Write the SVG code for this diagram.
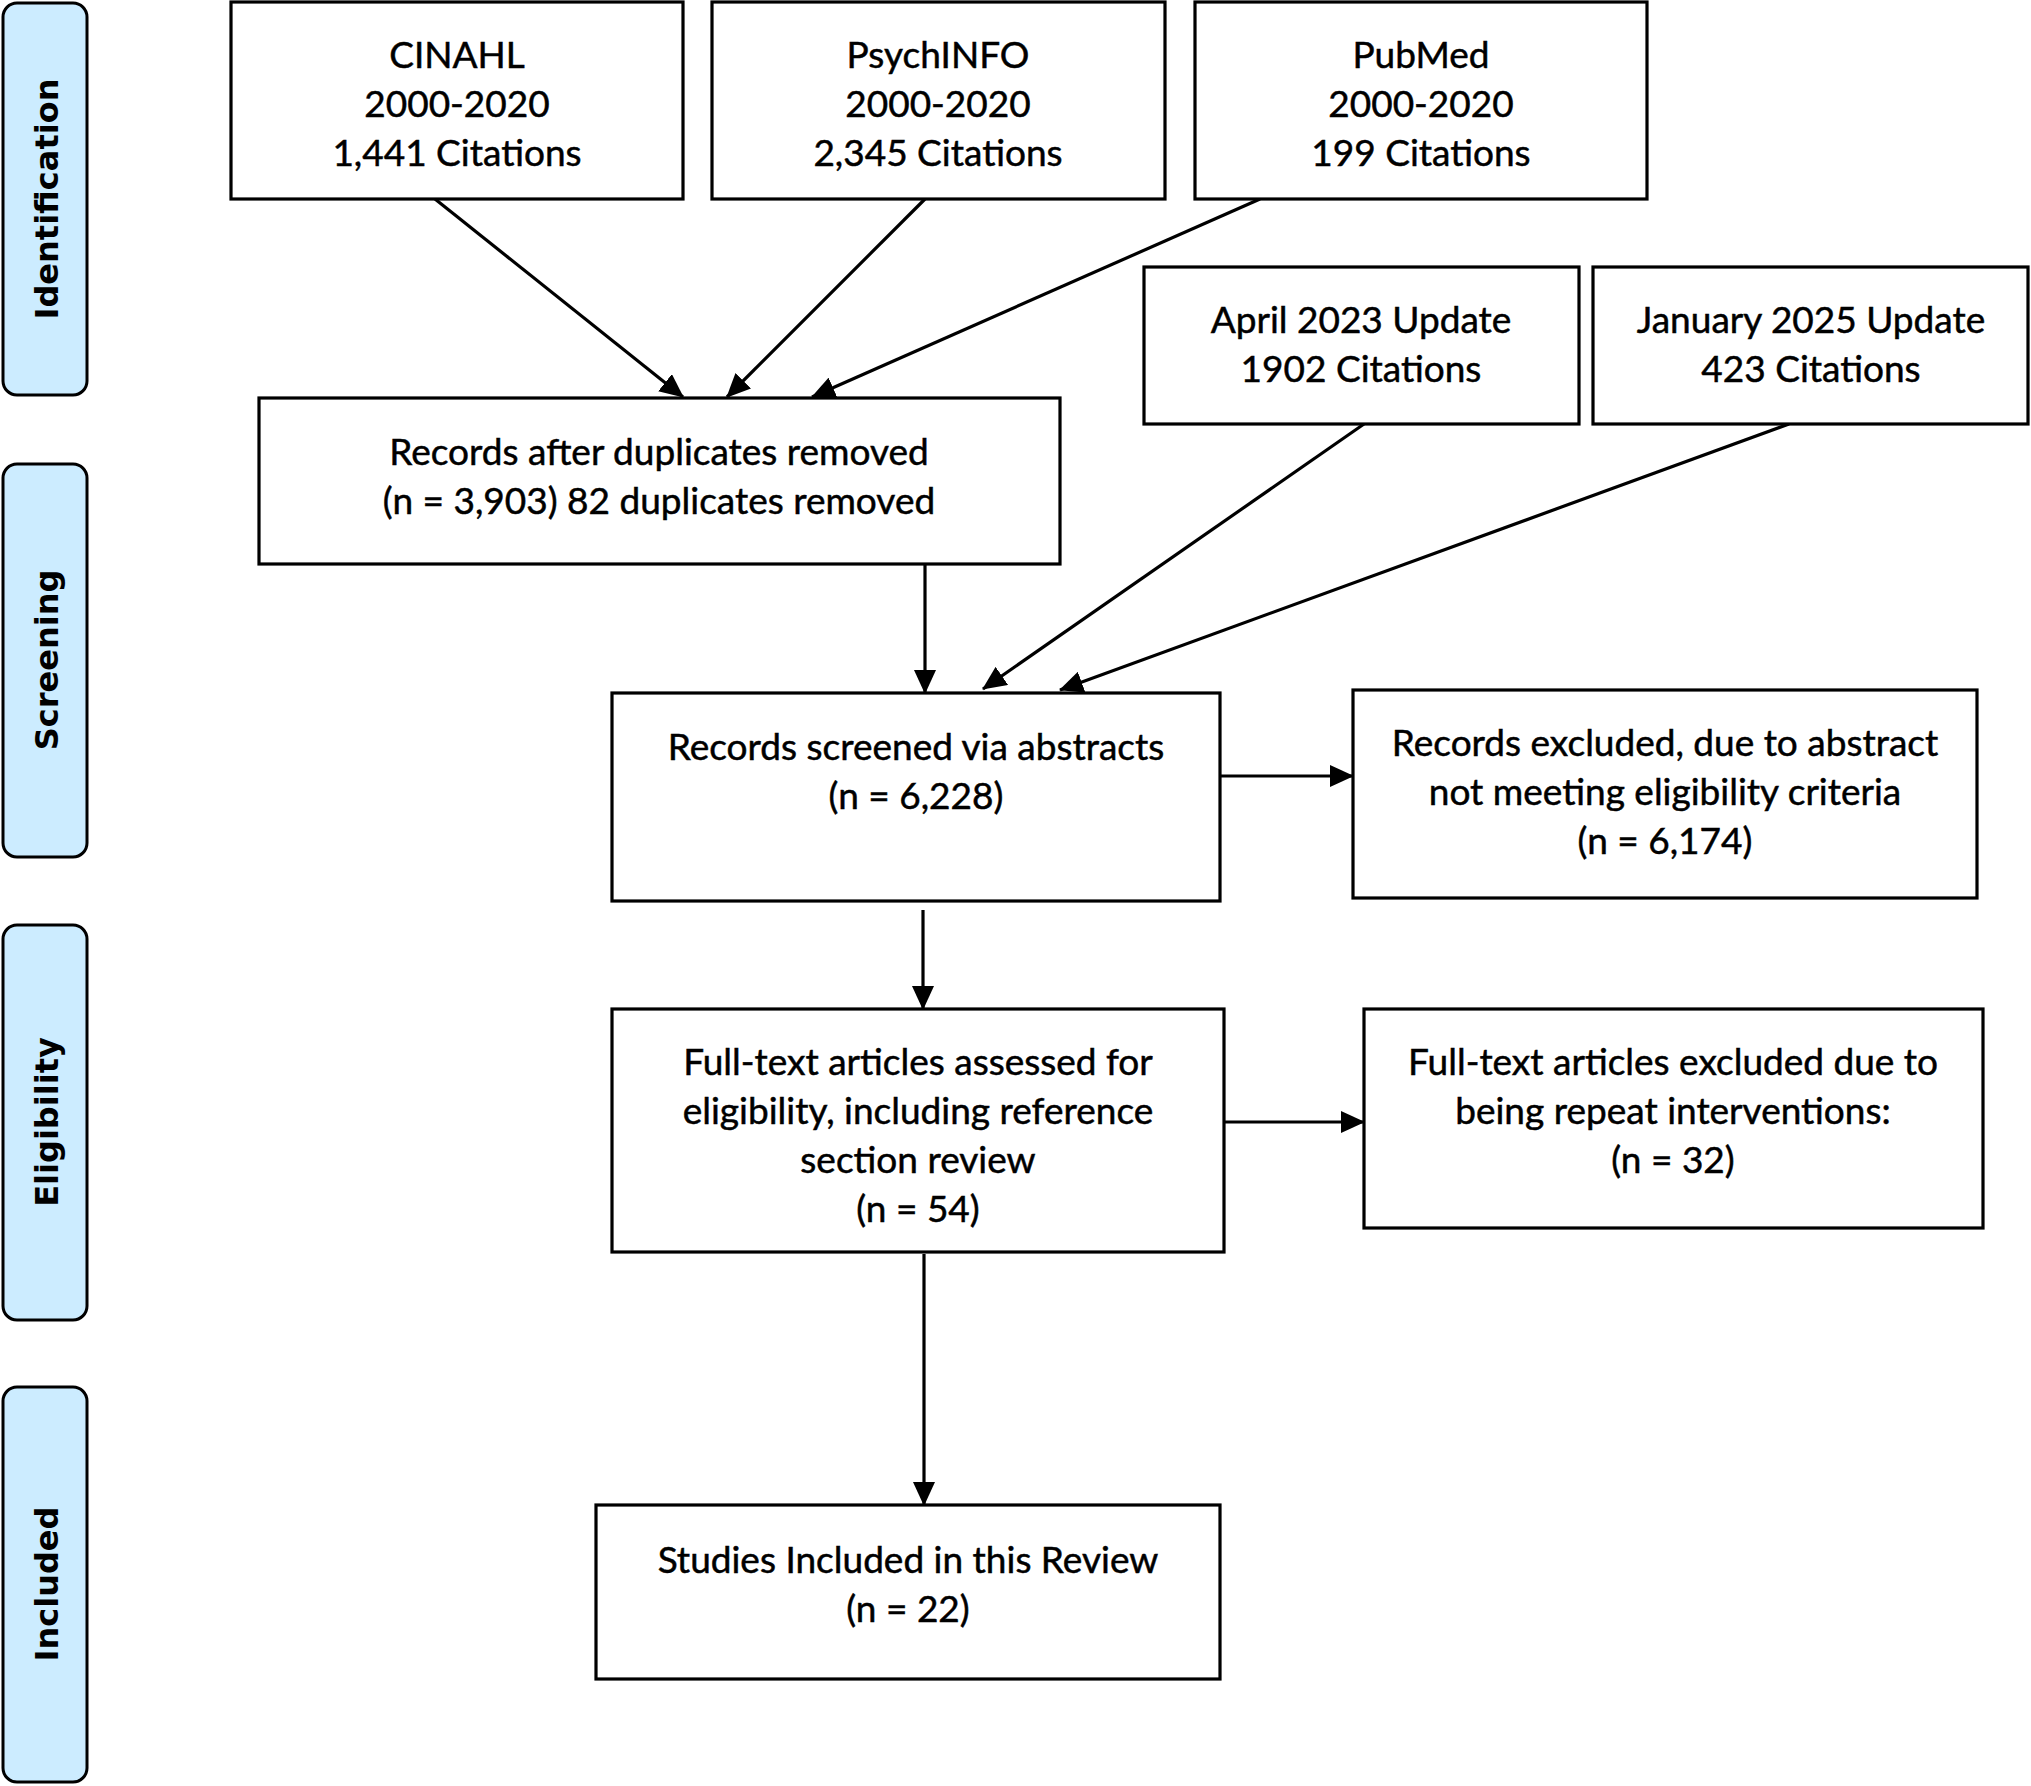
<svg xmlns="http://www.w3.org/2000/svg" width="2031" height="1786" viewBox="0 0 2031 1786">
<style>
.box{fill:#fff;stroke:#000;stroke-width:3.2}
.lane{fill:#CCECFF;stroke:#000;stroke-width:3}
.t{font-family:Lato,"Open Sans","Liberation Sans",sans-serif;font-size:37px;fill:#000;stroke:#000;stroke-width:0.5;text-anchor:middle}
.lt{font-family:"DejaVu Sans",Verdana,sans-serif;font-weight:bold;font-size:32px;fill:#000;text-anchor:middle;dominant-baseline:central}
.c{stroke:#000;stroke-width:3.2;fill:none;marker-end:url(#ah)}
</style>
<defs>
<marker id="ah" markerUnits="userSpaceOnUse" markerWidth="24" markerHeight="22" refX="23" refY="11" orient="auto" viewBox="0 0 24 22">
<path d="M0,0 L24,11 L0,22 z" fill="#000"/>
</marker>
</defs>
<rect width="2031" height="1786" fill="#fff"/>
<g id="lane-identification"><rect class="lane" x="3" y="3" width="84" height="392" rx="14"/><text class="lt" transform="translate(47,199) rotate(-90)">Identification</text></g>
<g id="lane-screening"><rect class="lane" x="3" y="464" width="84" height="393" rx="14"/><text class="lt" transform="translate(47,660) rotate(-90)">Screening</text></g>
<g id="lane-eligibility"><rect class="lane" x="3" y="925" width="84" height="395" rx="14"/><text class="lt" transform="translate(47,1122) rotate(-90)">Eligibility</text></g>
<g id="lane-included"><rect class="lane" x="3" y="1387" width="84" height="395" rx="14"/><text class="lt" transform="translate(47,1584) rotate(-90)">Included</text></g>
<g id="connectors">
<line class="c" x1="435" y1="199" x2="683" y2="397"/>
<line class="c" x1="925" y1="199" x2="727" y2="397"/>
<line class="c" x1="1260" y1="199" x2="812" y2="397"/>
<line class="c" x1="1364" y1="424" x2="983" y2="689"/>
<line class="c" x1="1789" y1="424" x2="1060" y2="690"/>
<line class="c" x1="925" y1="564" x2="925" y2="693"/>
<line class="c" x1="923" y1="910" x2="923" y2="1009"/>
<line class="c" x1="924" y1="1254" x2="924" y2="1505"/>
<line class="c" x1="1220" y1="776" x2="1353" y2="776"/>
<line class="c" x1="1224" y1="1122" x2="1364" y2="1122"/>
</g>
<g id="cinahl"><rect class="box" x="231" y="2" width="452" height="197"/><text class="t" x="457" y="68">CINAHL</text><text class="t" x="457" y="117">2000-2020</text><text class="t" x="457" y="166">1,441 Citations</text></g>
<g id="psychinfo"><rect class="box" x="712" y="2" width="453" height="197"/><text class="t" x="938" y="68">PsychINFO</text><text class="t" x="938" y="117">2000-2020</text><text class="t" x="938" y="166">2,345 Citations</text></g>
<g id="pubmed"><rect class="box" x="1195" y="2" width="452" height="197"/><text class="t" x="1421" y="68">PubMed</text><text class="t" x="1421" y="117">2000-2020</text><text class="t" x="1421" y="166">199 Citations</text></g>
<g id="april"><rect class="box" x="1144" y="267" width="435" height="157"/><text class="t" x="1361" y="333">April 2023 Update</text><text class="t" x="1361" y="382">1902 Citations</text></g>
<g id="january"><rect class="box" x="1593" y="267" width="435" height="157"/><text class="t" x="1811" y="333">January 2025 Update</text><text class="t" x="1811" y="382">423 Citations</text></g>
<g id="dedup"><rect class="box" x="259" y="398" width="801" height="166"/><text class="t" x="659" y="465">Records after duplicates removed</text><text class="t" x="659" y="514">(n = 3,903) 82 duplicates removed</text></g>
<g id="screened"><rect class="box" x="612" y="693" width="608" height="208"/><text class="t" x="916" y="760">Records screened via abstracts</text><text class="t" x="916" y="809">(n = 6,228)</text></g>
<g id="excluded"><rect class="box" x="1353" y="690" width="624" height="208"/><text class="t" x="1665" y="756">Records excluded, due to abstract</text><text class="t" x="1665" y="805">not meeting eligibility criteria</text><text class="t" x="1665" y="854">(n = 6,174)</text></g>
<g id="fulltext"><rect class="box" x="612" y="1009" width="612" height="243"/><text class="t" x="918" y="1075">Full-text articles assessed for</text><text class="t" x="918" y="1124">eligibility, including reference</text><text class="t" x="918" y="1173">section review</text><text class="t" x="918" y="1222">(n = 54)</text></g>
<g id="fulltext-excluded"><rect class="box" x="1364" y="1009" width="619" height="219"/><text class="t" x="1673" y="1075">Full-text articles excluded due to</text><text class="t" x="1673" y="1124">being repeat interventions:</text><text class="t" x="1673" y="1173">(n = 32)</text></g>
<g id="included"><rect class="box" x="596" y="1505" width="624" height="174"/><text class="t" x="908" y="1573">Studies Included in this Review</text><text class="t" x="908" y="1622">(n = 22)</text></g>
</svg>
